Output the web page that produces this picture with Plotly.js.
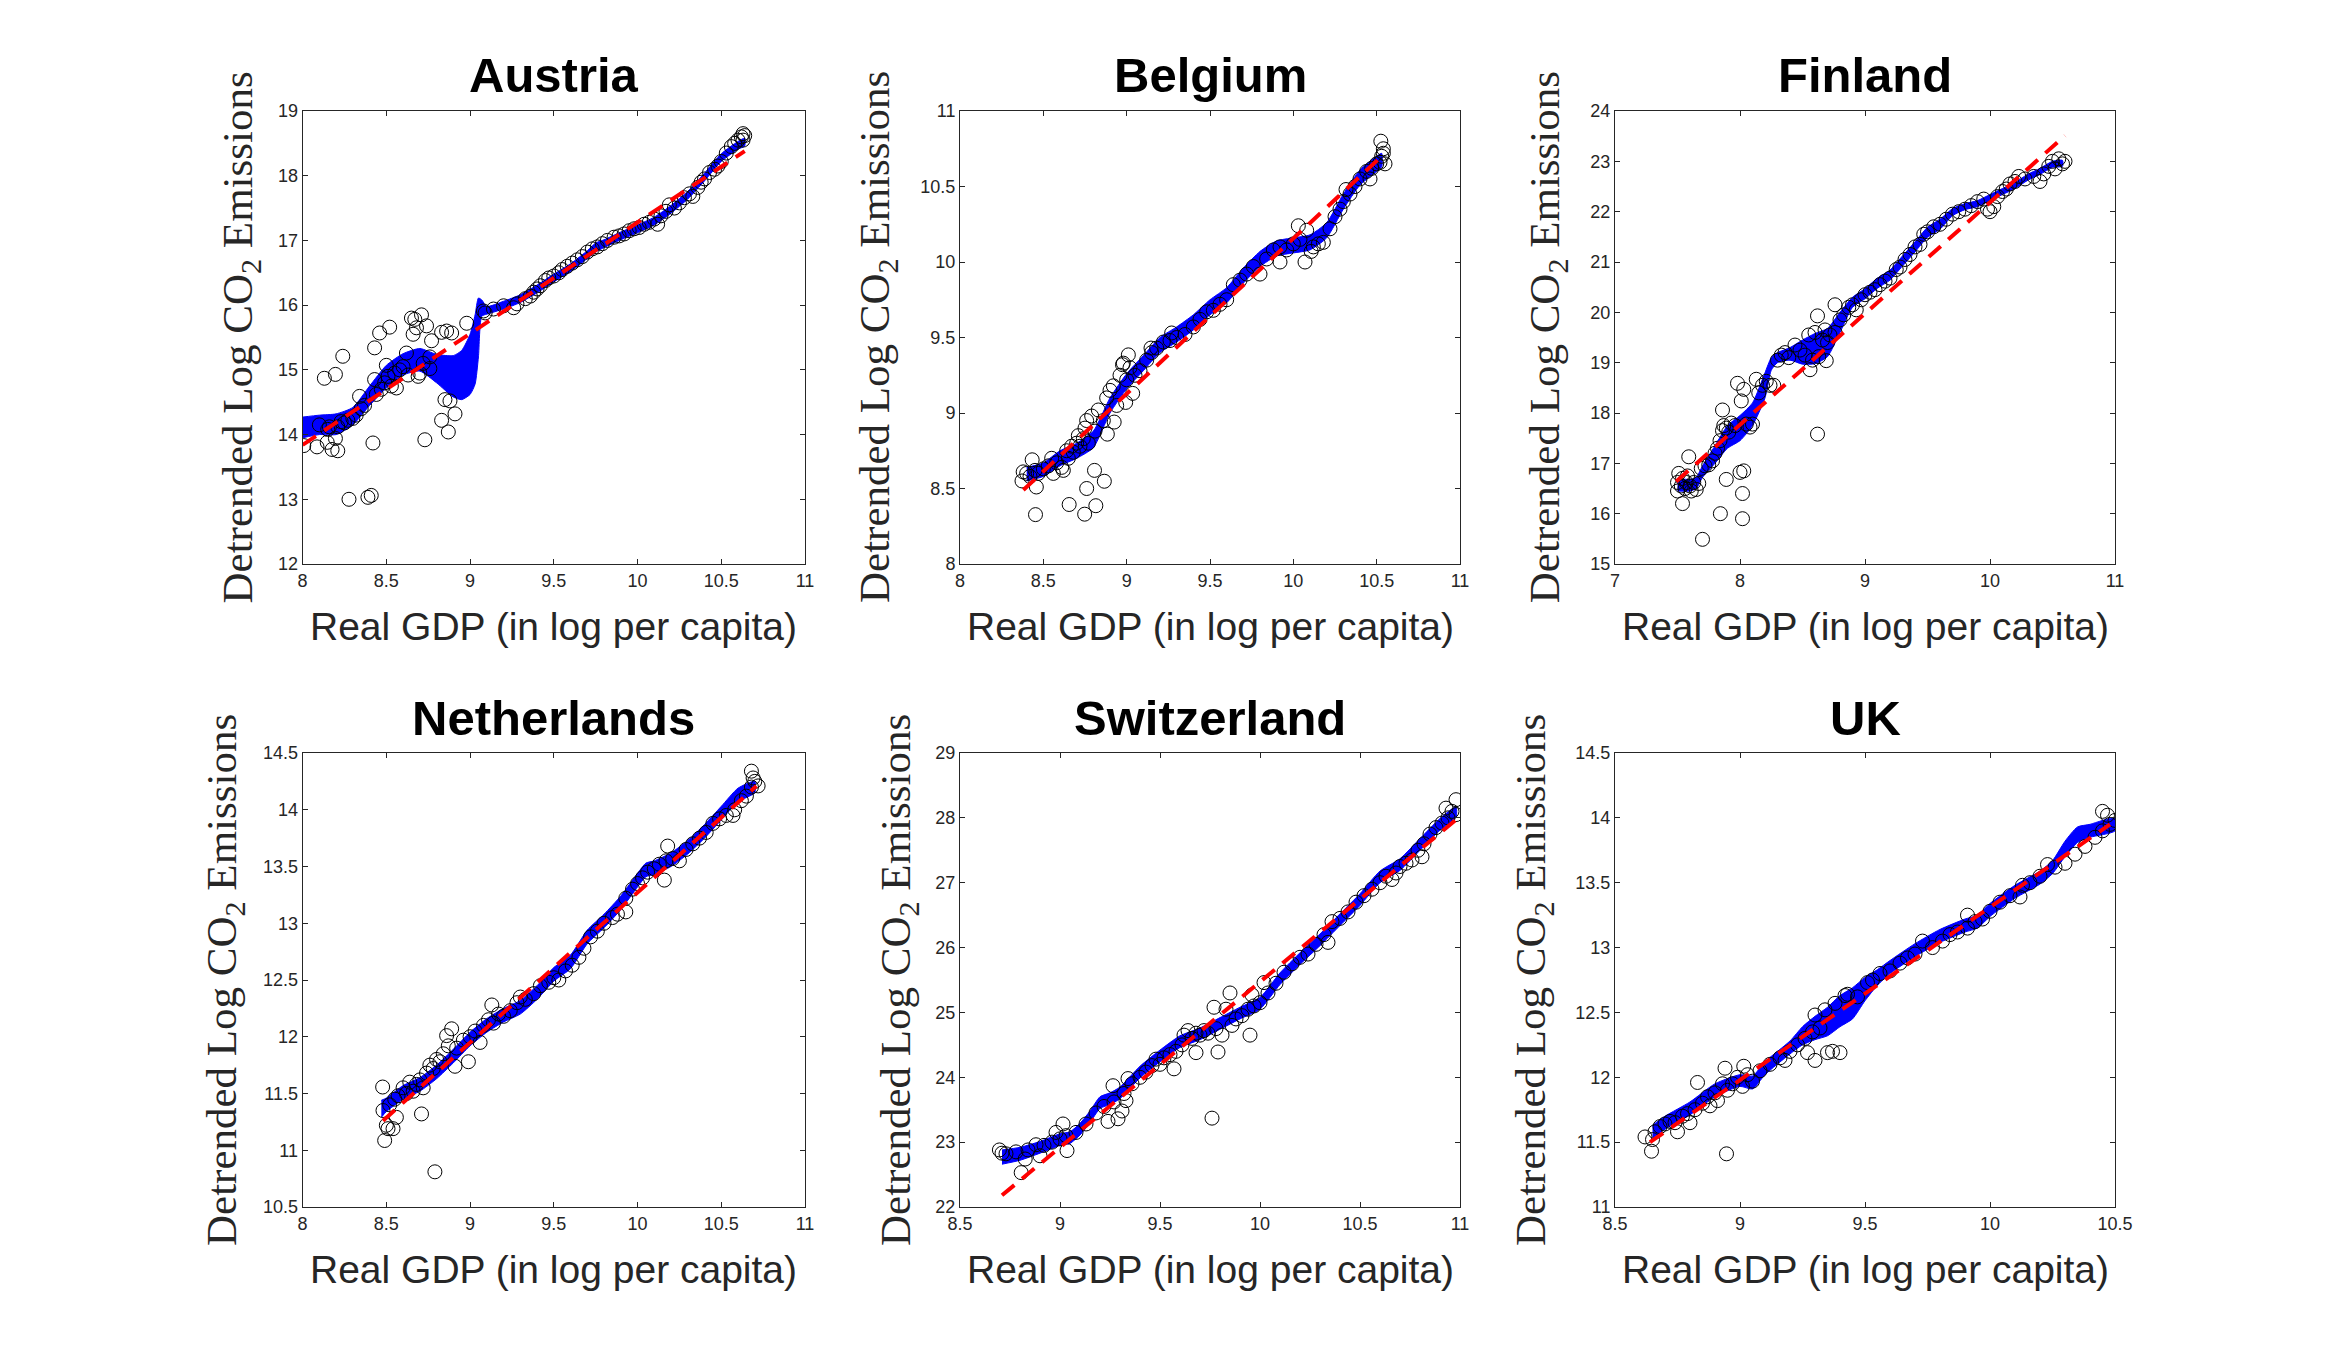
<!DOCTYPE html>
<html>
<head>
<meta charset="utf-8">
<script src="https://cdn.plot.ly/plotly-3.0.1.min.js"></script>
<style>html,body{margin:0;padding:0;background:#fff;}#chart{width:2334px;height:1356px;}</style>
</head>
<body>
<div id="chart"></div>
<script>
// ---------------- Titles / labels ----------------
const countries = ["Austria", "Belgium", "Finland", "Netherlands", "Switzerland", "UK"];
const xLabel = "Real GDP (in log per capita)";
const yLabel = "Detrended Log CO<sub>2</sub> Emissions";

// ---------------- Austria ----------------
const austriaX = [8.007,8.086,8.10,8.13,8.15,8.16,8.147,8.176,8.21,8.196,8.196,8.24,8.21,8.23,8.25,8.27,8.277,8.30,8.32,8.34,8.35,8.37,8.39,8.41,8.42,8.43,8.43,8.44,8.46,8.47,8.49,8.50,8.51,8.52,8.53,8.55,8.56,8.58,8.60,8.62,8.63,8.65,8.66,8.67,8.68,8.69,8.70,8.71,8.72,8.73,8.74,8.76,8.76,8.77,8.83,8.83,8.85,8.86,8.87,8.88,8.89,8.91,8.98,9.08,9.09,9.14,9.20,9.26,9.28,9.33,9.36,9.38,9.40,9.42,9.45,9.47,9.50,9.53,9.55,9.58,9.61,9.64,9.67,9.70,9.73,9.76,9.79,9.82,9.86,9.89,9.92,9.95,9.98,10.01,10.04,10.07,10.10,10.12,10.14,10.17,10.19,10.22,10.25,10.28,10.31,10.33,10.36,10.38,10.40,10.43,10.46,10.48,10.50,10.53,10.56,10.58,10.60,10.62,10.63,10.64,10.63];
const austriaY = [13.83,13.81,14.15,14.87,14.08,14.12,13.88,13.77,13.75,13.94,14.93,15.21,14.12,14.20,14.18,14.22,13.00,14.25,14.30,14.59,14.40,14.45,13.03,13.06,13.87,15.34,14.85,14.62,15.57,14.70,14.80,15.07,14.90,15.66,14.75,14.95,14.72,15.00,15.05,15.26,14.92,15.80,15.55,15.78,15.65,14.90,14.95,15.85,15.10,13.92,15.68,15.02,15.20,15.45,14.22,15.58,14.54,15.60,14.04,14.52,15.57,14.32,15.72,15.91,15.88,15.94,15.99,15.96,16.02,16.10,16.14,16.20,16.25,16.30,16.38,16.42,16.45,16.50,16.55,16.60,16.65,16.70,16.75,16.82,16.87,16.90,16.95,17.00,17.05,17.07,17.10,17.15,17.18,17.20,17.25,17.28,17.33,17.25,17.38,17.45,17.55,17.50,17.58,17.66,17.72,17.68,17.82,17.90,17.95,18.05,18.10,18.15,18.22,18.35,18.45,18.50,18.55,18.60,18.65,18.62,18.55];
const austriaBandX = [8.0,8.1,8.2,8.3,8.4,8.5,8.6,8.7,8.8,8.9,8.95,9.0,9.03,9.05,9.07,9.1,9.2,9.3,9.4,9.5,9.6,9.7,9.75,9.8,9.9,10.0,10.1,10.2,10.3,10.4,10.5,10.6,10.64];
const austriaUpper = [14.27,14.30,14.32,14.42,14.75,15.07,15.25,15.33,15.24,15.22,15.30,15.55,15.85,16.11,16.08,15.98,16.06,16.16,16.31,16.48,16.64,16.84,16.96,17.01,17.13,17.24,17.36,17.54,17.76,18.04,18.34,18.53,18.58];
const austriaLower = [13.95,14.00,14.00,14.15,14.45,14.72,14.92,14.98,14.80,14.58,14.54,14.62,14.78,15.20,15.83,15.86,15.94,16.04,16.19,16.36,16.52,16.72,16.82,16.89,17.01,17.12,17.24,17.42,17.64,17.92,18.22,18.41,18.46];
const austriaFitX = [8.0, 10.64];
const austriaFitY = [13.84, 18.38];

// ---------------- Belgium ----------------
const belgiumX = [8.453,8.655,8.748,8.76,8.807,8.815,8.866,8.458,8.433,8.379,8.372,8.884,8.925,9.036,8.994,9.01,8.975,9.146,9.27,9.92,10.07,10.03,10.08,10.18,10.107,10.316,10.46,10.525,10.54,10.55,8.40,8.42,8.45,8.47,8.50,8.53,8.55,8.56,8.58,8.61,8.62,8.64,8.65,8.67,8.68,8.70,8.71,8.72,8.74,8.75,8.76,8.77,8.79,8.81,8.83,8.86,8.88,8.90,8.92,8.94,8.96,8.98,9.00,9.02,9.05,9.08,9.12,9.15,9.18,9.22,9.26,9.30,9.35,9.40,9.44,9.48,9.52,9.56,9.60,9.64,9.68,9.72,9.76,9.80,9.84,9.88,9.92,9.96,10.00,10.04,10.12,10.15,10.22,10.25,10.28,10.30,10.34,10.37,10.40,10.44,10.47,10.50,10.52,10.53,10.54];
const belgiumY = [8.327,8.394,8.33,8.50,8.62,8.386,8.548,8.51,8.69,8.61,8.55,8.86,8.94,9.13,9.07,9.385,9.32,9.43,9.53,10.00,10.00,10.24,10.21,10.13,10.07,10.48,10.55,10.80,10.75,10.65,8.60,8.58,8.62,8.60,8.63,8.65,8.70,8.60,8.67,8.64,8.62,8.75,8.70,8.78,8.74,8.80,8.85,8.78,8.83,8.90,8.95,8.80,8.98,8.88,9.02,8.95,9.10,9.15,9.18,9.05,9.25,9.33,9.22,9.30,9.25,9.28,9.35,9.40,9.43,9.47,9.48,9.50,9.52,9.57,9.62,9.67,9.68,9.72,9.75,9.85,9.88,9.92,9.97,9.92,10.02,10.08,10.10,10.08,10.12,10.15,10.10,10.12,10.22,10.30,10.35,10.40,10.45,10.50,10.55,10.60,10.62,10.65,10.66,10.70,10.72];
const belgiumBandX = [8.4,8.5,8.6,8.7,8.8,8.9,9.0,9.1,9.2,9.3,9.4,9.5,9.6,9.7,9.8,9.9,10.0,10.1,10.2,10.3,10.4,10.5,10.53];
const belgiumUpper = [8.64,8.67,8.75,8.80,8.88,9.10,9.26,9.38,9.50,9.57,9.65,9.75,9.83,9.96,10.07,10.14,10.16,10.18,10.26,10.45,10.61,10.70,10.72];
const belgiumLower = [8.55,8.58,8.65,8.70,8.77,9.00,9.16,9.28,9.40,9.47,9.55,9.65,9.73,9.86,9.97,10.04,10.06,10.08,10.16,10.35,10.51,10.60,10.63];
const belgiumFitX = [8.38, 10.51];
const belgiumFitY = [8.49, 10.68];

// ---------------- Finland ----------------
const finlandX = [7.70,7.843,8.02,8.02,8.03,8.0,7.89,7.54,7.59,8.62,8.76,8.56,8.69,8.62,7.86,7.98,8.03,8.01,8.13,8.10,8.21,8.27,7.50,7.50,7.51,7.53,7.54,7.56,7.57,7.58,7.60,7.61,7.63,7.65,7.67,7.69,7.72,7.75,7.78,7.80,7.82,7.84,7.86,7.87,7.89,7.91,7.93,7.96,8.05,8.08,8.15,8.18,8.24,8.30,8.33,8.36,8.39,8.44,8.48,8.52,8.55,8.58,8.60,8.63,8.66,8.68,8.70,8.72,8.76,8.80,8.83,8.87,8.90,8.93,8.97,9.00,9.04,9.08,9.12,9.16,9.20,9.25,9.28,9.32,9.36,9.40,9.44,9.47,9.50,9.55,9.60,9.65,9.70,9.75,9.80,9.85,9.90,9.95,9.98,10.00,10.03,10.06,10.10,10.13,10.16,10.20,10.23,10.28,10.35,10.40,10.43,10.47,10.50,10.52,10.55,10.58,10.60];
const finlandY = [15.49,16.00,15.90,16.40,16.85,16.82,16.68,16.20,17.13,17.58,20.15,18.86,19.04,19.93,18.06,18.59,18.47,18.24,18.67,17.78,18.63,18.55,16.45,16.62,16.80,16.55,16.70,16.50,16.62,16.75,16.55,16.45,16.62,16.48,16.60,16.90,16.95,16.97,17.05,17.20,17.30,17.45,17.65,17.75,17.70,17.62,17.80,17.75,17.78,17.72,18.40,18.55,18.55,19.05,19.15,19.20,19.10,19.35,19.25,19.15,19.55,19.05,19.60,19.12,19.45,19.65,19.40,19.55,19.60,19.85,19.95,20.10,20.15,20.05,20.25,20.35,20.40,20.45,20.55,20.62,20.68,20.85,20.90,21.05,21.15,21.30,21.35,21.55,21.60,21.70,21.75,21.85,21.95,22.00,22.05,22.12,22.20,22.25,22.05,22.00,22.10,22.30,22.40,22.45,22.55,22.60,22.70,22.65,22.70,22.60,22.75,22.90,23.00,22.85,23.05,22.95,23.00];
const finlandBandX = [7.5,7.6,7.65,7.7,7.8,7.9,8.0,8.1,8.2,8.25,8.3,8.4,8.5,8.6,8.7,8.8,8.9,9.0,9.1,9.2,9.3,9.4,9.5,9.6,9.7,9.8,9.9,10.0,10.1,10.2,10.3,10.4,10.5,10.58];
const finlandUpper = [16.70,16.68,16.72,16.95,17.35,17.75,17.95,18.20,18.80,19.10,19.20,19.30,19.45,19.58,19.68,20.00,20.30,20.47,20.68,20.84,21.12,21.40,21.69,21.85,22.06,22.16,22.22,22.34,22.46,22.58,22.74,22.86,23.00,23.02];
const finlandLower = [16.45,16.45,16.50,16.72,17.00,17.30,17.45,17.75,18.30,18.85,19.00,19.05,18.97,18.98,19.12,19.60,20.10,20.27,20.48,20.64,20.92,21.20,21.49,21.65,21.92,22.04,22.10,22.22,22.34,22.46,22.62,22.74,22.88,22.90];
const finlandFitX = [7.49, 10.6];
const finlandFitY = [16.64, 23.51];

// ---------------- Netherlands ----------------
const netherlandsX = [8.478,8.49,8.79,8.71,8.56,8.51,8.54,8.89,8.86,8.91,8.99,9.13,9.30,9.93,10.16,10.18,10.57,10.68,10.72,10.69,8.48,8.50,8.52,8.55,8.57,8.60,8.62,8.64,8.66,8.68,8.70,8.72,8.74,8.76,8.78,8.80,8.82,8.84,8.87,8.92,8.96,9.00,9.03,9.06,9.08,9.11,9.14,9.17,9.20,9.24,9.28,9.33,9.38,9.42,9.47,9.50,9.53,9.57,9.61,9.65,9.68,9.72,9.76,9.80,9.85,9.88,9.93,9.97,10.00,10.03,10.06,10.10,10.13,10.17,10.21,10.25,10.29,10.33,10.37,10.41,10.45,10.49,10.53,10.58,10.62,10.65,10.68,10.70];
const netherlandsY = [11.557,11.086,10.81,11.32,11.29,11.19,11.19,12.07,12.01,11.74,11.78,12.28,12.35,13.10,13.38,13.68,13.95,14.34,14.21,14.28,11.35,11.22,11.40,11.45,11.48,11.55,11.50,11.60,11.52,11.58,11.62,11.55,11.68,11.75,11.72,11.80,11.78,11.85,11.92,11.90,11.97,12.00,12.05,11.95,12.10,12.15,12.12,12.20,12.18,12.23,12.30,12.33,12.38,12.45,12.48,12.52,12.50,12.58,12.63,12.70,12.78,12.88,12.93,13.00,13.05,13.08,13.22,13.30,13.35,13.40,13.45,13.48,13.52,13.55,13.57,13.55,13.65,13.70,13.75,13.80,13.88,13.92,13.95,14.00,14.08,14.12,14.20,14.25];
const netherlandsBandX = [8.47,8.5,8.6,8.7,8.8,8.9,9.0,9.1,9.2,9.3,9.4,9.5,9.6,9.7,9.8,9.9,10.0,10.05,10.1,10.2,10.3,10.4,10.5,10.6,10.7];
const netherlandsUpper = [11.44,11.46,11.57,11.64,11.75,11.89,12.04,12.16,12.25,12.32,12.45,12.61,12.72,12.94,13.08,13.24,13.44,13.53,13.55,13.62,13.73,13.87,14.03,14.19,14.25];
const netherlandsLower = [11.29,11.34,11.45,11.52,11.63,11.77,11.92,12.04,12.13,12.20,12.33,12.49,12.60,12.82,12.96,13.12,13.32,13.41,13.43,13.50,13.61,13.75,13.91,14.07,14.15];
const netherlandsFitX = [8.48, 10.71];
const netherlandsFitY = [11.26, 14.21];

// ---------------- Switzerland ----------------
const switzerlandX = [8.697,8.71,8.806,8.826,8.90,9.035,9.015,8.98,9.265,9.24,9.29,9.31,9.33,9.34,9.57,9.68,9.76,9.79,9.77,9.85,9.95,9.96,10.02,10.34,10.81,10.98,10.93,8.73,8.78,8.84,8.88,8.92,8.96,9.00,9.03,9.08,9.13,9.18,9.22,9.27,9.32,9.36,9.40,9.43,9.46,9.48,9.50,9.52,9.55,9.58,9.61,9.62,9.64,9.66,9.68,9.70,9.72,9.74,9.78,9.81,9.83,9.86,9.88,9.91,9.94,9.97,10.00,10.04,10.08,10.12,10.16,10.20,10.24,10.28,10.32,10.36,10.40,10.44,10.48,10.52,10.56,10.60,10.63,10.66,10.68,10.70,10.73,10.76,10.79,10.82,10.85,10.88,10.91,10.94,10.96,10.98];
const switzerlandY = [22.88,22.83,22.53,22.74,22.79,22.87,23.28,23.15,23.87,23.32,23.36,23.48,23.64,23.98,24.13,24.38,23.37,24.39,25.08,25.30,24.65,25.27,25.46,26.08,27.40,28.28,28.15,22.82,22.85,22.88,22.96,22.95,23.00,23.05,23.10,23.15,23.28,23.45,23.55,23.62,23.75,23.90,24.00,24.08,24.18,24.28,24.20,24.30,24.35,24.40,24.50,24.65,24.72,24.60,24.68,24.65,24.72,24.68,24.75,24.65,25.05,24.80,24.90,24.95,25.05,25.10,25.15,25.30,25.45,25.62,25.75,25.85,25.90,26.05,26.20,26.40,26.45,26.55,26.70,26.80,26.90,27.00,27.10,27.05,27.15,27.25,27.30,27.35,27.50,27.60,27.75,27.85,27.92,28.00,28.10,28.05];
const switzerlandBandX = [8.71,8.8,8.9,9.0,9.05,9.1,9.15,9.2,9.25,9.3,9.4,9.5,9.6,9.7,9.8,9.9,10.0,10.1,10.2,10.3,10.4,10.5,10.6,10.7,10.8,10.9,10.98];
const switzerlandUpper = [22.88,22.92,23.01,23.13,23.16,23.29,23.48,23.70,23.76,23.85,24.17,24.42,24.64,24.76,24.92,25.08,25.23,25.61,25.92,26.21,26.52,26.83,27.18,27.37,27.68,27.99,28.17];
const switzerlandLower = [22.66,22.72,22.83,22.95,22.98,23.11,23.30,23.52,23.58,23.67,23.99,24.24,24.46,24.58,24.74,24.90,25.05,25.43,25.74,26.03,26.34,26.65,27.00,27.19,27.50,27.81,28.01];
const switzerlandFitX = [8.71, 10.98];
const switzerlandFitY = [22.18, 27.97];

// ---------------- UK ----------------
const ukX = [8.946,8.83,8.646,8.62,8.75,8.80,8.94,9.015,9.30,9.27,9.35,9.37,9.40,9.30,9.34,9.38,9.42,9.43,9.51,9.18,9.91,10.23,10.12,10.45,10.47,8.65,8.66,8.68,8.70,8.72,8.74,8.77,8.79,8.82,8.85,8.87,8.88,8.90,8.91,8.93,8.95,8.97,8.99,9.01,9.03,9.05,9.08,9.12,9.16,9.20,9.23,9.26,9.29,9.32,9.47,9.53,9.56,9.60,9.64,9.67,9.70,9.73,9.77,9.81,9.84,9.87,9.91,9.94,9.97,10.00,10.04,10.08,10.13,10.16,10.20,10.26,10.30,10.34,10.38,10.42,10.45,10.48,10.50];
const ukY = [11.41,11.96,11.43,11.54,11.58,11.65,12.07,12.085,12.13,12.19,12.19,12.20,12.19,12.48,12.52,12.57,12.63,12.64,12.73,12.13,13.25,13.64,13.39,14.05,14.02,11.52,11.58,11.62,11.64,11.66,11.65,11.70,11.72,11.75,11.80,11.85,11.78,11.88,11.82,11.95,11.90,11.95,12.00,11.93,12.02,11.97,12.05,12.10,12.15,12.20,12.25,12.30,12.35,12.38,12.62,12.75,12.80,12.82,12.88,12.92,12.95,13.05,13.00,13.05,13.10,13.12,13.15,13.20,13.22,13.28,13.35,13.40,13.48,13.50,13.55,13.62,13.65,13.72,13.78,13.85,13.90,13.95,13.98];
const ukBandX = [8.65,8.7,8.8,8.9,9.0,9.05,9.1,9.2,9.25,9.3,9.35,9.4,9.45,9.5,9.55,9.6,9.7,9.8,9.9,9.95,10.0,10.1,10.2,10.25,10.3,10.35,10.4,10.5];
const ukUpper = [11.63,11.70,11.81,11.95,12.02,12.01,12.12,12.28,12.39,12.47,12.54,12.63,12.69,12.77,12.83,12.90,13.03,13.14,13.22,13.25,13.34,13.48,13.59,13.67,13.82,13.93,13.95,14.00];
const ukLower = [11.53,11.60,11.71,11.85,11.93,11.91,12.02,12.18,12.25,12.29,12.32,12.39,12.45,12.59,12.71,12.80,12.93,13.04,13.12,13.15,13.24,13.38,13.49,13.57,13.70,13.81,13.85,13.90];
const ukFitX = [8.64, 10.48];
const ukFitY = [11.50, 13.95];

// ---------------- Axis ranges / ticks ----------------
const xRanges = [[8,11],[8,11],[7,11],[8,11],[8.5,11],[8.5,10.5]];
const yRanges = [[12,19],[8,11],[15,24],[10.5,14.5],[22,29],[11,14.5]];
const xDticks = [0.5,0.5,1,0.5,0.5,0.5];
const yDticks = [1,0.5,1,0.5,1,0.5];

const panels = [
  [austriaX, austriaY, austriaBandX, austriaUpper, austriaLower, austriaFitX, austriaFitY],
  [belgiumX, belgiumY, belgiumBandX, belgiumUpper, belgiumLower, belgiumFitX, belgiumFitY],
  [finlandX, finlandY, finlandBandX, finlandUpper, finlandLower, finlandFitX, finlandFitY],
  [netherlandsX, netherlandsY, netherlandsBandX, netherlandsUpper, netherlandsLower, netherlandsFitX, netherlandsFitY],
  [switzerlandX, switzerlandY, switzerlandBandX, switzerlandUpper, switzerlandLower, switzerlandFitX, switzerlandFitY],
  [ukX, ukY, ukBandX, ukUpper, ukLower, ukFitX, ukFitY]
];

// ---------------- Layout geometry ----------------
const W = 2334, H = 1356;
const colPx = [[302.6,805],[960,1460],[1615,2115]];
const rowPx = [[111,564],[753,1207]];
const yLabelPx = [241, 878.5, 1548.7, 225, 899, 1534];
const titleY = [75, 718];
const xLabY = [626, 1269];

const traces = [];
const layout = {
  width: W, height: H,
  margin: {l:0, r:0, t:0, b:0},
  paper_bgcolor: '#ffffff', plot_bgcolor: '#ffffff',
  showlegend: false,
  annotations: []
};
const tickFont = {family: 'Liberation Sans, Arial, Helvetica, sans-serif', size: 18, color: '#262626'};

panels.forEach((p, i) => {
  const [sx, sy, bx, bu, bl, fx, fy] = p;
  const sfx = i === 0 ? '' : String(i + 1);
  const xa = 'x' + sfx, ya = 'y' + sfx;
  const col = i % 3, row = Math.floor(i / 3);
  traces.push({
    x: bx.concat(bx.slice().reverse()),
    y: bu.concat(bl.slice().reverse()),
    xaxis: xa, yaxis: ya, type: 'scatter', mode: 'lines',
    fill: 'toself', fillcolor: '#0000ff',
    line: {color: '#0000ff', width: 1, shape: 'spline', smoothing: 0.6}, hoverinfo: 'skip'
  });
  traces.push({
    x: sx, y: sy, xaxis: xa, yaxis: ya, type: 'scatter', mode: 'markers',
    marker: {symbol: 'circle-open', size: 14, color: '#000000', line: {width: 1, color: '#000000'}}
  });
  traces.push({
    x: fx, y: fy, xaxis: xa, yaxis: ya, type: 'scatter', mode: 'lines',
    line: {color: '#ff0000', width: 4, dash: '16px,10px'}
  });
  const axCommon = {
    showgrid: false, zeroline: false, showline: true, mirror: 'ticks',
    linecolor: '#262626', linewidth: 1, ticks: 'inside', ticklen: 5,
    tickcolor: '#262626', tickwidth: 1, tickfont: tickFont
  };
  layout['xaxis' + sfx] = Object.assign({}, axCommon, {
    domain: [colPx[col][0] / W, colPx[col][1] / W],
    range: xRanges[i], dtick: xDticks[i], tick0: 0, anchor: ya
  });
  layout['yaxis' + sfx] = Object.assign({}, axCommon, {
    domain: [1 - rowPx[row][1] / H, 1 - rowPx[row][0] / H],
    range: yRanges[i], dtick: yDticks[i], tick0: 0, anchor: xa
  });
  const cx = (colPx[col][0] + colPx[col][1]) / 2 / W;
  layout.annotations.push({
    text: '<b>' + countries[i] + '</b>', xref: 'paper', yref: 'paper',
    x: cx, y: 1 - titleY[row] / H, xanchor: 'center', yanchor: 'middle', showarrow: false,
    font: {family: 'Liberation Sans, Arial, Helvetica, sans-serif', size: 49, color: '#000000'}
  });
  layout.annotations.push({
    text: xLabel, xref: 'paper', yref: 'paper',
    x: cx, y: 1 - xLabY[row] / H, xanchor: 'center', yanchor: 'middle', showarrow: false,
    font: {family: 'Liberation Sans, Arial, Helvetica, sans-serif', size: 39, color: '#262626'}
  });
  layout.annotations.push({
    text: yLabel, xref: 'paper', yref: 'paper', textangle: -90,
    x: yLabelPx[i] / W, y: 1 - (rowPx[row][0] + rowPx[row][1]) / 2 / H,
    xanchor: 'center', yanchor: 'middle', showarrow: false,
    font: {family: 'Liberation Serif, Times New Roman, serif', size: 43, color: '#262626'}
  });
});

Plotly.newPlot('chart', traces, layout, {displayModeBar: false, staticPlot: true});
</script>
</body>
</html>
